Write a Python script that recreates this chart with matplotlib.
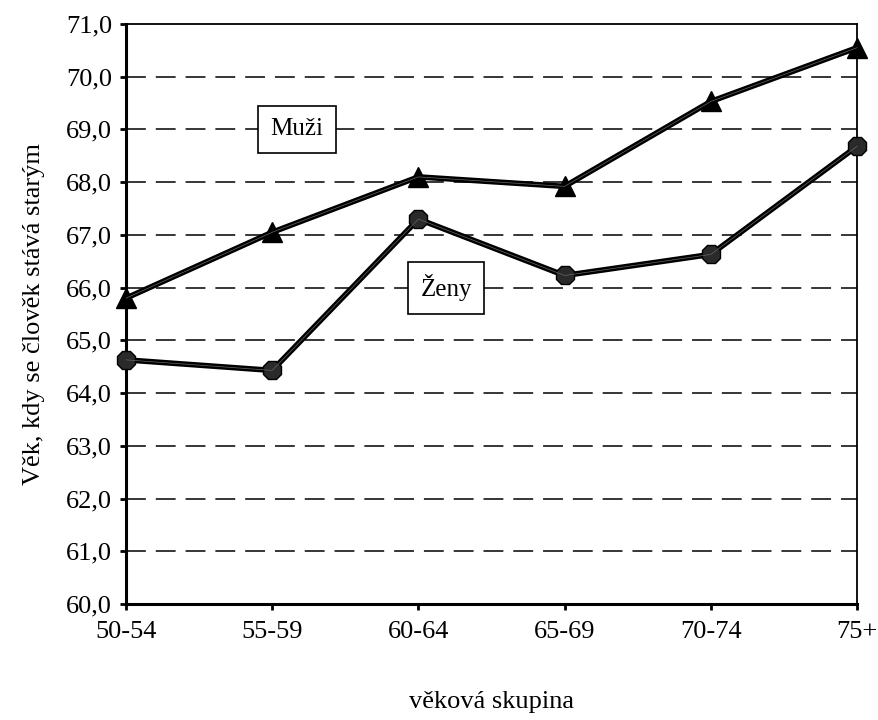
import matplotlib.pyplot as plt

plt.rcParams['font.family'] = ['Liberation Serif', 'DejaVu Serif']

groups = ["50-54", "55-59", "60-64", "65-69", "70-74", "75+"]
muzi = [65.8, 67.05, 68.1, 67.92, 69.53, 70.55]
zeny = [64.63, 64.43, 67.3, 66.23, 66.63, 68.68]
y_ticks = [60, 61, 62, 63, 64, 65, 66, 67, 68, 69, 70, 71]

fig = plt.figure(figsize=(8.79, 7.2), dpi=100)
ax = fig.add_axes([0.1433, 0.1611, 0.8317, 0.8056])

x = list(range(len(groups)))
for yv in y_ticks[1:-1]:
    ax.axhline(yv, color="black", lw=1.1, linestyle=(0, (13, 6.5)), zorder=1)

ax.plot(x, muzi, color="black", lw=4, marker="^", markersize=15,
        markerfacecolor="black", markeredgecolor="black", clip_on=False, zorder=3)
ax.plot(x, zeny, color="black", lw=4, marker="8", markersize=14,
        markerfacecolor="#2a2a2a", markeredgecolor="black", clip_on=False, zorder=3)
# faint inner stripe to mimic the double-stroked lines
ax.plot(x, muzi, color="#666666", lw=0.5, clip_on=False, zorder=4)
ax.plot(x, zeny, color="#666666", lw=0.5, clip_on=False, zorder=4)

box = dict(boxstyle="square,pad=0.5", facecolor="white", edgecolor="black", lw=1.2)
ax.text(1.17, 69.0, "Muži", fontsize=18, ha="center", va="center", bbox=box, zorder=5)
ax.text(2.19, 66.0, "Ženy", fontsize=18, ha="center", va="center", bbox=box, zorder=5)

ax.set_xlim(0, 5)
ax.set_ylim(60, 71)
ax.set_xticks(x, groups)
ax.set_yticks(y_ticks, [f"{v},0" for v in y_ticks])
ax.tick_params(axis="both", labelsize=19, length=4, width=2, direction="out")
ax.tick_params(axis="x", pad=8)
ax.tick_params(axis="y", pad=6)

for side in ("left", "bottom"):
    ax.spines[side].set_linewidth(2.2)
for side in ("top", "right"):
    ax.spines[side].set_linewidth(1.3)

ax.set_ylabel("Věk, kdy se člověk stává starým", fontsize=19, labelpad=15)
ax.set_xlabel("věková skupina", fontsize=19, labelpad=35)

fig.savefig("out.png", dpi=100)
